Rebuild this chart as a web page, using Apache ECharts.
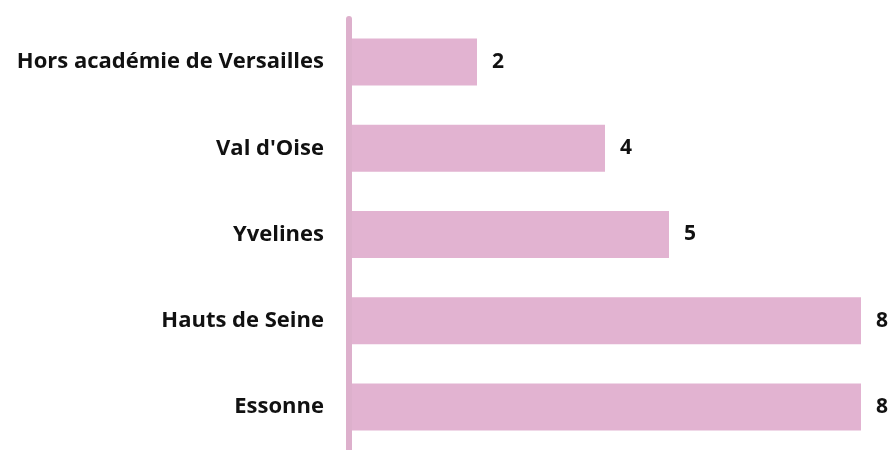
<!DOCTYPE html>
<html>
<head>
<meta charset="utf-8">
<script src="https://cdn.jsdelivr.net/npm/echarts@6/dist/echarts.min.js"></script>
<style>
  html, body { margin: 0; padding: 0; background: #fff; }
  #chart { width: 891px; height: 450px; }
</style>
</head>
<body>
<div id="chart"></div>
<script>
// top-to-bottom order as in the picture
var categories = ['Hors académie de Versailles', "Val d'Oise", 'Yvelines', 'Hauts de Seine', 'Essonne'];
var values = [2, 4, 5, 8, 8];

var myChart = echarts.init(document.getElementById('chart'));
var option = {
    animation: false,
    grid: {
        left: 349,
        right: 30,
        top: 19,
        height: 436
    },
    xAxis: {
        type: 'value',
        min: 0,
        max: 8,
        show: false
    },
    yAxis: {
        type: 'category',
        data: categories,
        inverse: true,
        z: 3,
        axisLine: {
            show: true,
            lineStyle: { color: '#DDB0CC', width: 6 }
        },
        axisTick: { show: false },
        axisLabel: {
            margin: 25,
            color: '#111',
            fontFamily: 'Open Sans',
            fontWeight: 'bold',
            fontSize: 22
        }
    },
    series: [
        {
            type: 'bar',
            data: values,
            barWidth: 47,
            itemStyle: { color: '#E2B3D1' },
            label: {
                show: true,
                position: 'right',
                distance: 15,
                color: '#111',
                fontFamily: 'Open Sans',
                fontWeight: 'bold',
                fontSize: 21
            }
        }
    ]
};
myChart.setOption(option);
</script>
</body>
</html>
